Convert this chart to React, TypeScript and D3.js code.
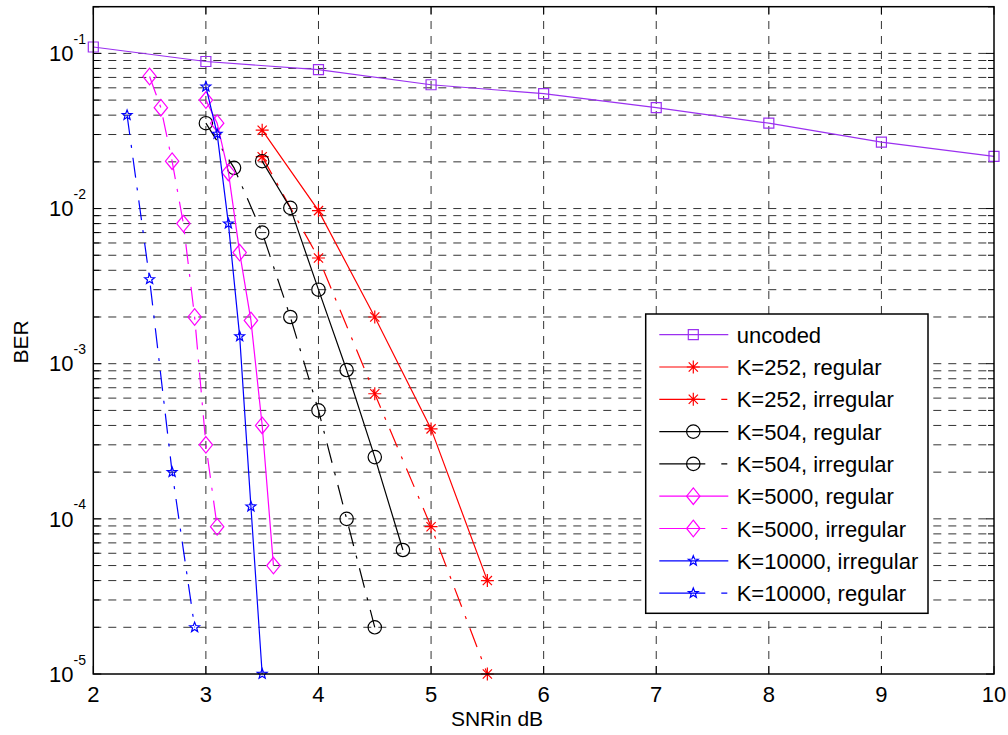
import React from "react";
import * as d3 from "d3";

const snrUncoded = [2, 3, 4, 5, 6, 7, 8, 9, 10];
const berUncoded = [0.11, 0.0887, 0.0785, 0.0628, 0.055, 0.0447, 0.0355, 0.0268, 0.0217];

const snrK252 = [3.5, 4, 4.5, 5, 5.5];
const berK252Reg = [0.032, 0.0097, 0.002, 0.00038, 0.00004];
const berK252Irr = [0.0216, 0.0048, 0.00064, 0.000089, 0.00001];

const snrK504Reg = [3.5, 3.75, 4, 4.25, 4.5, 4.75];
const berK504Reg = [0.0202, 0.0101, 0.003, 0.00091, 0.00025, 0.000063];
const snrK504Irr = [3, 3.25, 3.5, 3.75, 4, 4.25, 4.5];
const berK504Irr = [0.0355, 0.0183, 0.007, 0.002, 0.0005, 0.0001, 0.00002];

const snrK5000Reg = [3, 3.1, 3.2, 3.3, 3.4, 3.5, 3.6];
const berK5000Reg = [0.05, 0.0355, 0.0171, 0.0052, 0.0019, 0.0004, 0.00005];
const snrK5000Irr = [2.5, 2.6, 2.7, 2.8, 2.9, 3.0, 3.1];
const berK5000Irr = [0.071, 0.0447, 0.0202, 0.008, 0.002, 0.0003, 0.000089];

const snrK10000Irr = [3, 3.1, 3.2, 3.3, 3.4, 3.5];
const berK10000Irr = [0.061, 0.0303, 0.008, 0.0015, 0.00012, 0.00001];
const snrK10000Reg = [2.3, 2.5, 2.7, 2.9];
const berK10000Reg = [0.04, 0.0035, 0.0002, 0.00002];

const xTicks = [2, 3, 4, 5, 6, 7, 8, 9, 10];
const yDecades = [-1, -2, -3, -4, -5];

type Marker = "square" | "star" | "circle" | "diamond" | "pentagram";

interface Series {
  label: string;
  xs: number[];
  ys: number[];
  color: string;
  dashed: boolean;
  marker: Marker;
}

const series: Series[] = [
  { label: "uncoded", xs: snrUncoded, ys: berUncoded, color: "#9B30F0", dashed: false, marker: "square" },
  { label: "K=252, regular", xs: snrK252, ys: berK252Reg, color: "#FF0000", dashed: false, marker: "star" },
  { label: "K=252, irregular", xs: snrK252, ys: berK252Irr, color: "#FF0000", dashed: true, marker: "star" },
  { label: "K=504, regular", xs: snrK504Reg, ys: berK504Reg, color: "#000000", dashed: false, marker: "circle" },
  { label: "K=504, irregular", xs: snrK504Irr, ys: berK504Irr, color: "#000000", dashed: true, marker: "circle" },
  { label: "K=5000, regular", xs: snrK5000Reg, ys: berK5000Reg, color: "#FF00FF", dashed: false, marker: "diamond" },
  { label: "K=5000, irregular", xs: snrK5000Irr, ys: berK5000Irr, color: "#FF00FF", dashed: true, marker: "diamond" },
  { label: "K=10000, irregular", xs: snrK10000Irr, ys: berK10000Irr, color: "#0000FF", dashed: false, marker: "pentagram" },
  { label: "K=10000, regular", xs: snrK10000Reg, ys: berK10000Reg, color: "#0000FF", dashed: true, marker: "pentagram" },
];

const L = 93.3, R = 994, T = 6.7, B = 674;
const FONT = "Arial, 'Liberation Sans', Helvetica, sans-serif";
const DASHDOT = "20,10,3,10";
const GRID_DASH = "8,7";

function markerPath(m: Marker, cx: number, cy: number): string {
  switch (m) {
    case "square": {
      const s = 5;
      return `M${cx - s},${cy - s}H${cx + s}V${cy + s}H${cx - s}Z`;
    }
    case "star": {
      const s = 6.5, d = 4.6;
      return `M${cx - s},${cy}H${cx + s}M${cx},${cy - s}V${cy + s}M${cx - d},${cy - d}L${cx + d},${cy + d}M${cx - d},${cy + d}L${cx + d},${cy - d}`;
    }
    case "circle": {
      const r = 6.7;
      return `M${cx - r},${cy}A${r},${r} 0 1,0 ${cx + r},${cy}A${r},${r} 0 1,0 ${cx - r},${cy}Z`;
    }
    case "diamond": {
      const w = 6.7, h = 8.3;
      return `M${cx},${cy - h}L${cx + w},${cy}L${cx},${cy + h}L${cx - w},${cy}Z`;
    }
    case "pentagram": {
      const ro = 5.2, ri = 2.2;
      const pts: string[] = [];
      for (let i = 0; i < 10; i++) {
        const r = i % 2 === 0 ? ro : ri;
        const a = -Math.PI / 2 + (i * Math.PI) / 5;
        pts.push(`${cx + r * Math.cos(a)},${cy + r * Math.sin(a)}`);
      }
      return `M${pts.join("L")}Z`;
    }
  }
}

export default function App() {
  const x = d3.scaleLinear().domain([2, 10]).range([L, R]);
  const y = d3.scaleLog().domain([1e-5, 0.2]).range([B, T]);

  const line = d3
    .line<[number, number]>()
    .x((d) => x(d[0]))
    .y((d) => y(d[1]));

  const minorVals: number[] = [];
  for (let e = -5; e <= -1; e++) {
    for (let k = 1; k <= 9; k++) {
      const v = k * Math.pow(10, e);
      if (v >= 1e-5 && v <= 0.2) minorVals.push(v);
    }
  }
  minorVals.push(0.2);

  const legX = 645.7, legY = 314, legW = 282.3, legH = 299.3;
  const rowH = 32.3, row0 = 334.7;

  return (
    <svg width={1008} height={735} style={{ position: "absolute", left: 0, top: 0, background: "#fff" }}>
      <rect x={0} y={0} width={1008} height={735} fill="#fff" />
      {minorVals
        .filter((v) => y(v) > T + 1 && y(v) < B - 1)
        .map((v, i) => (
          <line key={"hg" + i} x1={L} x2={R} y1={y(v)} y2={y(v)} stroke="#333" strokeWidth={1} strokeDasharray={GRID_DASH} />
        ))}
      {xTicks
        .filter((t) => t > 2 && t < 10)
        .map((t) => (
          <line key={"vg" + t} x1={x(t)} x2={x(t)} y1={B} y2={T} stroke="#333" strokeWidth={1} strokeDasharray={GRID_DASH} />
        ))}
      {xTicks.map((t) => (
        <g key={"xt" + t}>
          <line x1={x(t)} x2={x(t)} y1={B} y2={B - 8} stroke="#000" />
          <line x1={x(t)} x2={x(t)} y1={T} y2={T + 8} stroke="#000" />
          <text x={x(t)} y={702} textAnchor="middle" fontFamily={FONT} fontSize={22} fill="#000">
            {t}
          </text>
        </g>
      ))}
      {minorVals.map((v, i) => {
        const isMajor = Math.abs(Math.log10(v) - Math.round(Math.log10(v))) < 1e-9;
        const len = isMajor ? 8 : 6;
        return (
          <g key={"yt" + i}>
            <line x1={L} x2={L + len} y1={y(v)} y2={y(v)} stroke="#000" />
            <line x1={R} x2={R - len} y1={y(v)} y2={y(v)} stroke="#000" />
          </g>
        );
      })}
      {yDecades.map((e) => (
        <g key={"yl" + e}>
          <text x={73.5} y={y(Math.pow(10, e)) + 7.7} textAnchor="end" fontFamily={FONT} fontSize={22} fill="#000">
            10
          </text>
          <text x={73.5} y={y(Math.pow(10, e)) - 9.5} textAnchor="start" fontFamily={FONT} fontSize={14} fill="#000">
            {"-" + Math.abs(e)}
          </text>
        </g>
      ))}
      {series.map((s, i) => {
        const pts = s.xs.map((xv, j) => [xv, s.ys[j]] as [number, number]);
        return (
          <g key={"s" + i}>
            <path d={line(pts) || ""} fill="none" stroke={s.color} strokeWidth={1.2} strokeDasharray={s.dashed ? DASHDOT : undefined} />
            {pts.map((p, j) => (
              <path key={j} d={markerPath(s.marker, x(p[0]), y(p[1]))} fill="none" stroke={s.color} strokeWidth={1.2} />
            ))}
          </g>
        );
      })}
      <rect x={L} y={T} width={R - L} height={B - T} fill="none" stroke="#000" strokeWidth={1.5} />
      <rect x={legX} y={legY} width={legW} height={legH} fill="#fff" stroke="#000" strokeWidth={1.5} />
      {series.map((s, i) => {
        const cy = row0 + i * rowH;
        return (
          <g key={"lg" + i}>
            <line x1={659.3} x2={728.3} y1={cy} y2={cy} stroke={s.color} strokeWidth={1.2} strokeDasharray={s.dashed ? "46,16,6,20" : undefined} />
            <path d={markerPath(s.marker, 693.3, cy)} fill="none" stroke={s.color} strokeWidth={1.2} />
            <text x={736.7} y={cy + 8} fontFamily={FONT} fontSize={22} fill="#000">
              {s.label}
            </text>
          </g>
        );
      })}
      <text x={497} y={726} textAnchor="middle" fontFamily={FONT} fontSize={21} fill="#000">
        SNRin dB
      </text>
      <text transform={`translate(28,342) rotate(-90)`} textAnchor="middle" fontFamily={FONT} fontSize={21} fill="#000">
        BER
      </text>
    </svg>
  );
}
